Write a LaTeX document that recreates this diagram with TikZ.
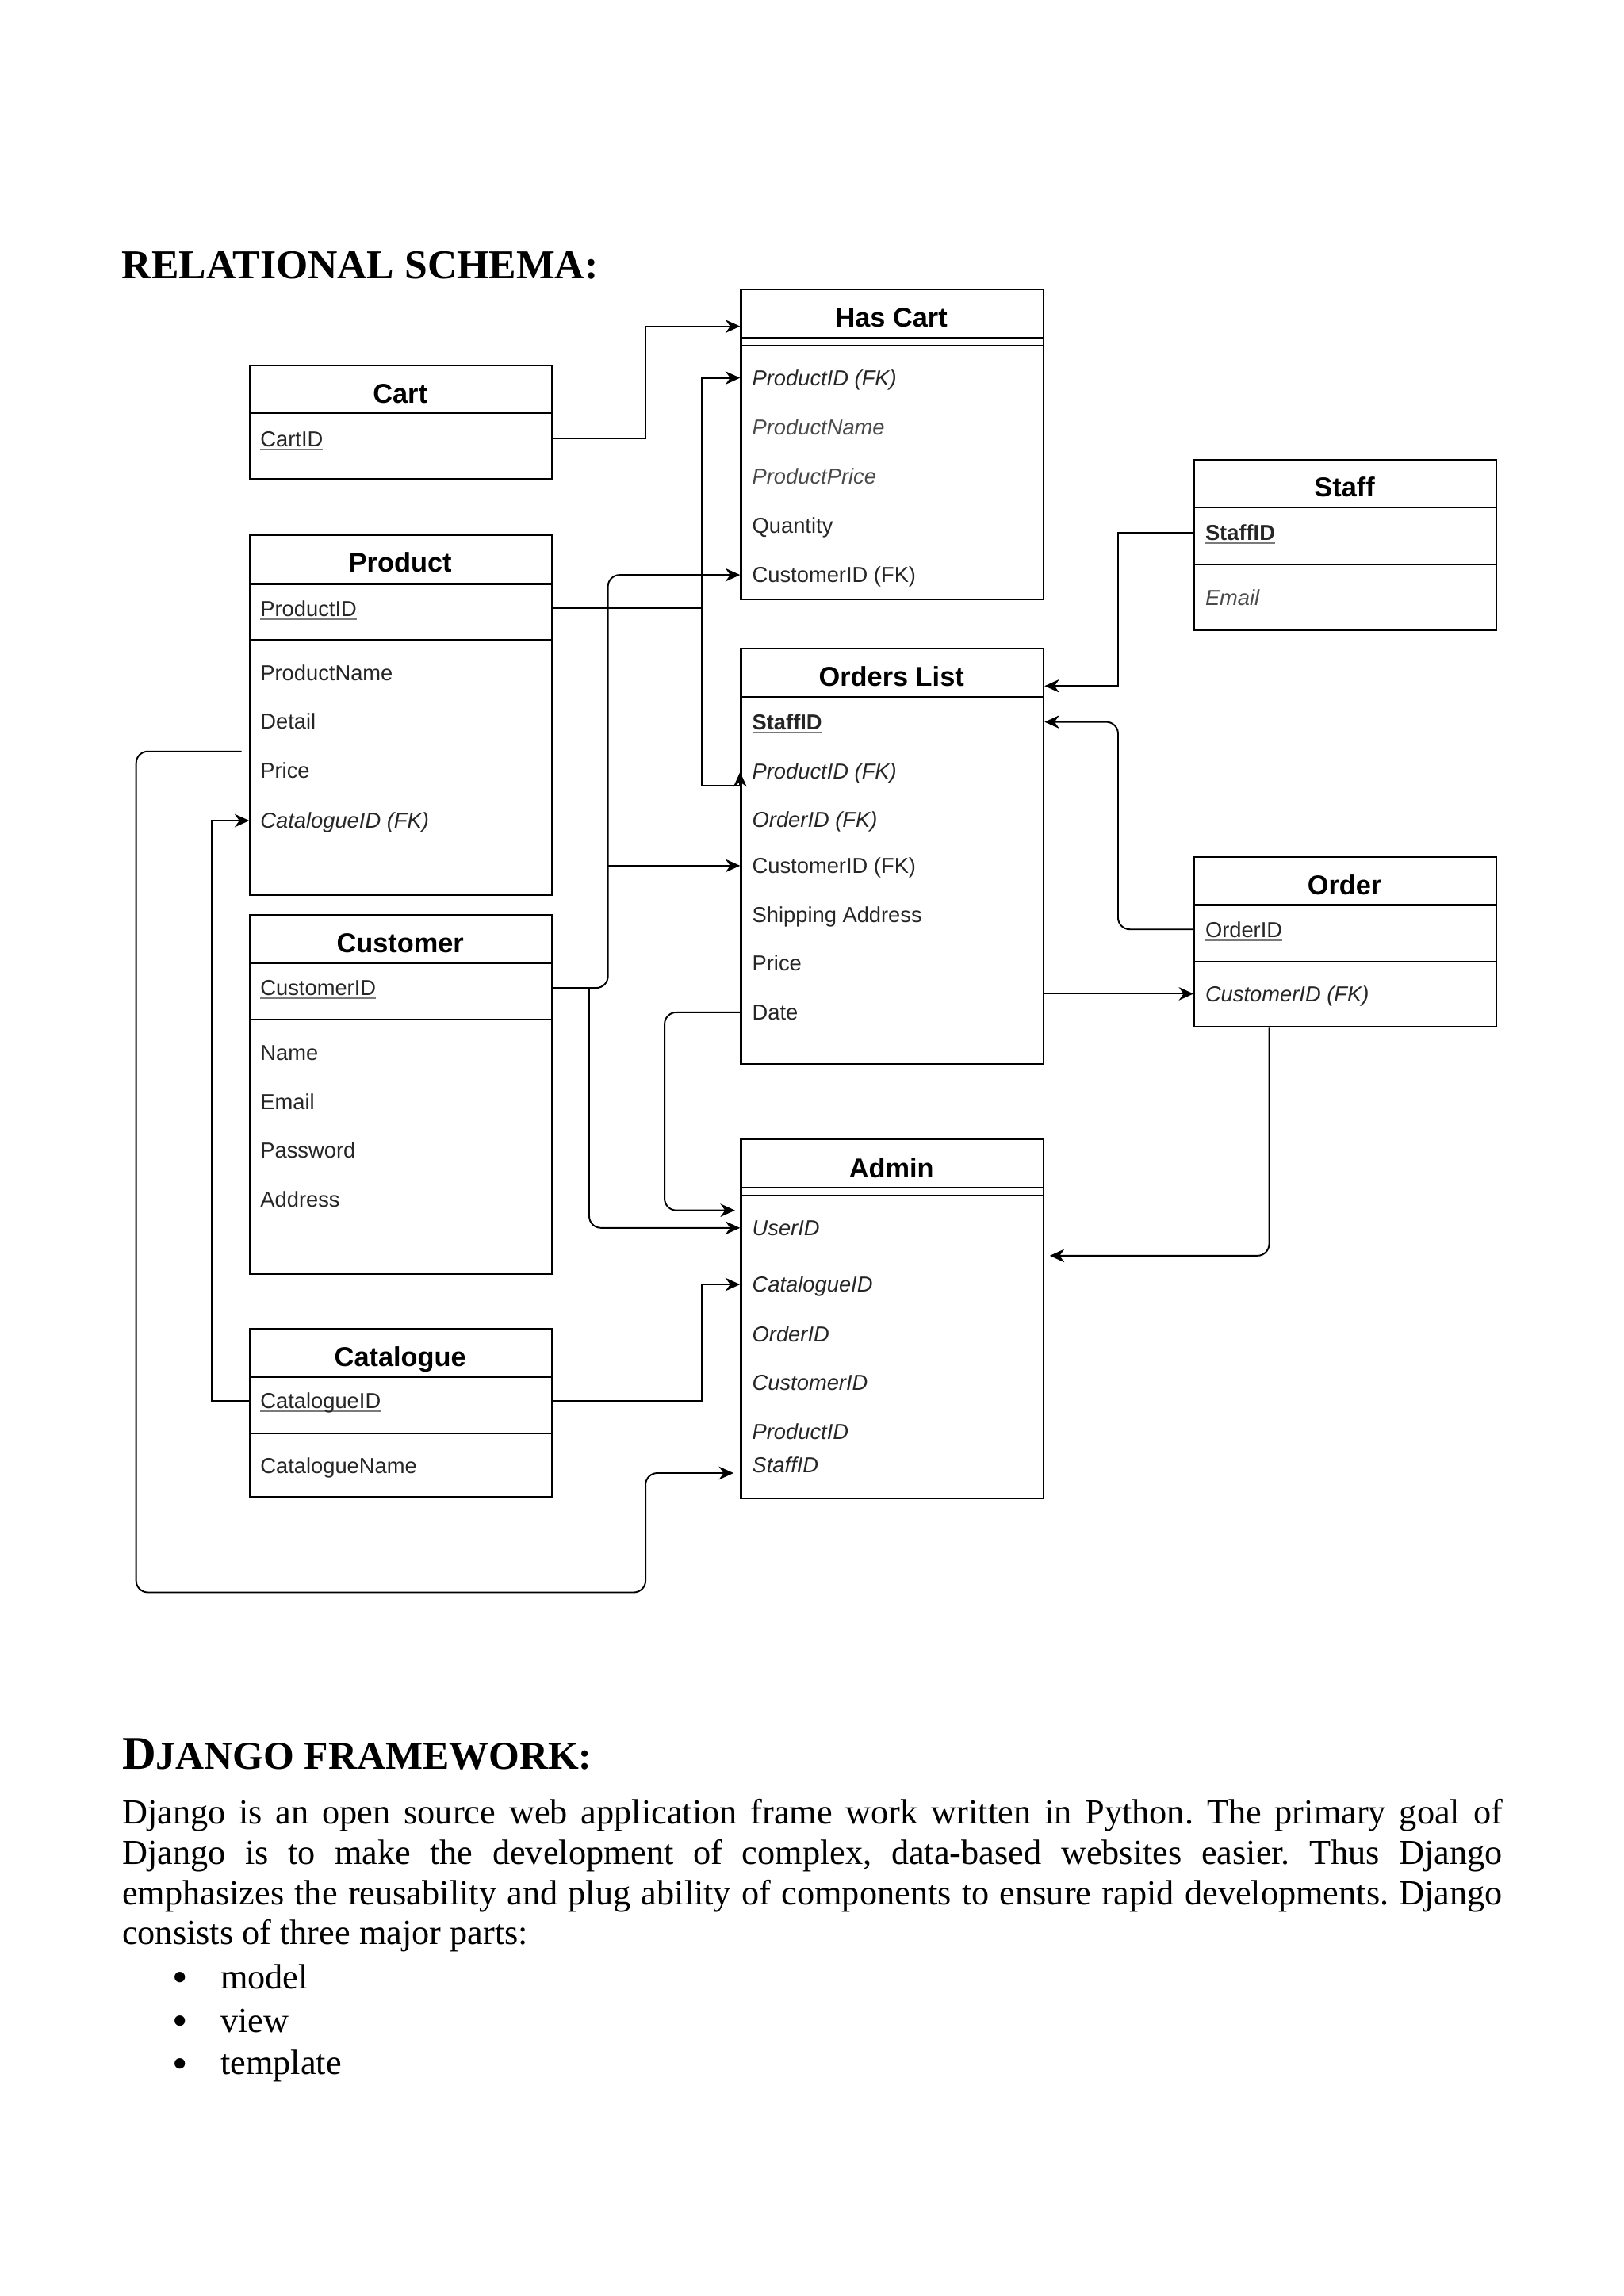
\documentclass[tikz,border=0pt]{standalone}
\usepackage{fontspec}
\setmainfont{Liberation Serif}
\newfontfamily\dsans{Liberation Sans}
\usetikzlibrary{arrows.meta}
\definecolor{rowc}{HTML}{262626}
\definecolor{lightc}{HTML}{4A4A4A}
\definecolor{ulc}{HTML}{7A7A7A}
\newcommand\kul[1]{\setbox0\hbox{#1}\rlap{\color{ulc}\rule[-2.4pt]{\wd0}{1.1pt}}\box0}
\newcommand\bigbul{\makebox[33.1pt][l]{\raisebox{-2.5pt}{\fontsize{30}{30}\selectfont •}}}
\frenchspacing
\tikzset{
  tbl/.style={draw, line width=1.2pt, inner sep=0pt, anchor=north west, minimum width=206.5pt},
  sepline/.style={line width=1.2pt},
  ttl/.style={font=\dsans\bfseries\fontsize{18.6}{22}\selectfont, text height=13pt, text depth=0pt, inner sep=0pt},
  row/.style={font=\dsans\fontsize{14.8}{17}\selectfont, text=rowc, text height=10.7pt, text depth=0pt, inner sep=0pt, anchor=west},
  lrow/.style={row, text=lightc},
  conn/.style={line width=1.05pt, -{Stealth[length=10pt,width=9pt,inset=3.2pt]}},
  rconn/.style={conn, rounded corners=8pt},
  heading/.style={font=\bfseries\fontsize{28}{32}\selectfont, inner sep=0pt, anchor=base west},
  body/.style={font=\fontsize{24}{27.6}\selectfont, inner sep=0pt, anchor=base west},
}
\begin{document}
\begin{tikzpicture}[x=1pt,y=-1pt]
\useasboundingbox (0,0) rectangle (1109.4,1568.8);
\fill[white] (0,0) rectangle (1109.4,1568.8);

% ---------- headings ----------
\node[heading] (h1) at (83.1,190.5) {RELATIONAL SCHEMA:};

% ---------- tables ----------
% Cart
\node[tbl, minimum height=77.3pt] (cart) at (170.2,249.2) {};
\draw[sepline] (cart.west |- 0,282.2) -- (cart.east |- 0,282.2);
\node[ttl] (carttitle) at (273.4,269) {Cart};
\node[row] (cartid) at (177.7,299.7) {\kul{CartID}};

% Has Cart
\node[tbl, minimum width=206.8pt, minimum height=211.8pt] (hascart) at (505.6,197.2) {};
\draw[sepline] (hascart.west |- 0,230.8) -- (hascart.east |- 0,230.8);
\draw[sepline] (hascart.west |- 0,236) -- (hascart.east |- 0,236);
\node[ttl] (hctitle) at (609,216.7) {Has Cart};
\node[row] (hcpid) at (513.7,258.2) {\itshape ProductID (FK)};
\node[lrow] (hcpname) at (513.7,292) {\itshape ProductName};
\node[lrow] (hcpprice) at (513.7,325.6) {\itshape ProductPrice};
\node[row] (hcqty) at (513.7,359) {Quantity};
\node[row] (hccid) at (513.7,392.8) {CustomerID (FK)};

% Staff
\node[tbl, minimum height=116.1pt] (staff) at (815.3,313.7) {};
\draw[sepline] (staff.west |- 0,346.7) -- (staff.east |- 0,346.7);
\draw[sepline] (staff.west |- 0,385.9) -- (staff.east |- 0,385.9);
\node[ttl] (sttitle) at (918.5,333) {Staff};
\node[row] (stid) at (823.2,364) {\bfseries\kul{StaffID}};
\node[lrow] (stemail) at (823.2,408) {\itshape Email};

% Product
\node[tbl, minimum width=206.2pt, minimum height=245.6pt] (product) at (170.3,365.1) {};
\draw[sepline] (product.west |- 0,399) -- (product.east |- 0,399);
\draw[sepline] (product.west |- 0,437.3) -- (product.east |- 0,437.3);
\node[ttl] (ptitle) at (273.4,384.6) {Product};
\node[row] (pid) at (177.7,415.7) {\kul{ProductID}};
\node[row] (pname) at (177.7,459.5) {ProductName};
\node[row] (pdetail) at (177.7,493) {Detail};
\node[row] (pprice) at (177.7,526.4) {Price};
\node[row] (pcat) at (177.7,560.7) {\itshape CatalogueID (FK)};

% Orders List
\node[tbl, minimum width=206.8pt, minimum height=283.9pt] (orders) at (505.6,442.5) {};
\draw[sepline] (orders.west |- 0,476) -- (orders.east |- 0,476);
\node[ttl] (oltitle) at (609,462.4) {Orders List};
\node[row] (olstaff) at (513.7,493.3) {\bfseries\kul{StaffID}};
\node[row] (olpid) at (513.7,526.8) {\itshape ProductID (FK)};
\node[row] (oloid) at (513.7,560) {\itshape OrderID (FK)};
\node[row] (olcid) at (513.7,591.5) {CustomerID (FK)};
\node[row] (olship) at (513.7,625) {Shipping Address};
\node[row] (olprice) at (513.7,658) {Price};
\node[row] (oldate) at (513.7,691.7) {Date};

% Order
\node[tbl, minimum height=116.2pt] (order) at (815.3,584.8) {};
\draw[sepline] (order.west |- 0,618.3) -- (order.east |- 0,618.3);
\draw[sepline] (order.west |- 0,657) -- (order.east |- 0,657);
\node[ttl] (ordtitle) at (918.5,604.8) {Order};
\node[row] (ordid) at (823.2,635) {\kul{OrderID}};
\node[row] (ordcid) at (823.2,679) {\itshape CustomerID (FK)};

% Customer
\node[tbl, minimum width=206.2pt, minimum height=245.4pt] (customer) at (170.3,624.4) {};
\draw[sepline] (customer.west |- 0,658.2) -- (customer.east |- 0,658.2);
\draw[sepline] (customer.west |- 0,696.7) -- (customer.east |- 0,696.7);
\node[ttl] (ctitle) at (273.4,644.3) {Customer};
\node[row] (cid) at (177.7,675) {\kul{CustomerID}};
\node[row] (cname) at (177.7,719) {Name};
\node[row] (cemail) at (177.7,752.6) {Email};
\node[row] (cpass) at (177.7,785.9) {Password};
\node[row] (caddr) at (177.7,819.4) {Address};

% Admin
\node[tbl, minimum width=206.8pt, minimum height=245.3pt] (admin) at (505.6,778) {};
\draw[sepline] (admin.west |- 0,811.5) -- (admin.east |- 0,811.5);
\draw[sepline] (admin.west |- 0,816.7) -- (admin.east |- 0,816.7);
\node[ttl] (adtitle) at (609,798) {Admin};
\node[row] (adu) at (513.7,839) {\itshape UserID};
\node[row] (adcat) at (513.7,877.6) {\itshape CatalogueID};
\node[row] (adoid) at (513.7,911.5) {\itshape OrderID};
\node[row] (adcid) at (513.7,944.3) {\itshape CustomerID};
\node[row] (adpid) at (513.7,978.3) {\itshape ProductID};
\node[row] (adstaff) at (513.7,1001) {\itshape StaffID};

% Catalogue
\node[tbl, minimum width=206.2pt, minimum height=115pt] (catalogue) at (170.3,907.3) {};
\draw[sepline] (catalogue.west |- 0,940.7) -- (catalogue.east |- 0,940.7);
\draw[sepline] (catalogue.west |- 0,979.6) -- (catalogue.east |- 0,979.6);
\node[ttl] (cattitle) at (273.4,927.3) {Catalogue};
\node[row] (catid) at (177.7,957.2) {\kul{CatalogueID}};
\node[row] (catname) at (177.7,1001.4) {CatalogueName};

% ---------- routing coordinates ----------
\coordinate (busA) at (441,0);
\coordinate (busB) at (479.5,0);
\coordinate (busC) at (415.3,0);
\coordinate (busD) at (402.5,0);
\coordinate (busE) at (454,0);
\coordinate (busF) at (144.4,0);
\coordinate (busG) at (93,0);
\coordinate (busH) at (763.8,0);
\coordinate (busI) at (867,0);
\coordinate (ycart) at (0,223);
\coordinate (yprod) at (0,537);
\coordinate (ydate) at (0,827);
\coordinate (yloop) at (0,1088);
\coordinate (yastaff) at (0,1006.5);
\coordinate (yolhead) at (0,468.7);
\coordinate (yadright) at (0,858);
\coordinate (pstub) at (165,513.4);

% ---------- connectors ----------
% Cart -> Has Cart
\draw[conn] (cart.east |- cartid) -| (busA |- ycart) -- (hascart.west |- ycart);
% Product -> Has Cart, Orders List
\draw[conn] (product.east |- pid) -| (busB |- hcpid) -- (hascart.west |- hcpid);
\draw[conn] (busB |- pid) |- (orders.west |- yprod) -- ++(0,-9.5);
% Customer -> Has Cart, Orders List, Admin
\draw[rconn] (customer.east |- cid) -| (busC |- hccid) -- (hascart.west |- hccid);
\draw[conn] (busC |- olcid) -- (orders.west |- olcid);
\draw[rconn] (busD |- cid) |- (admin.west |- adu);
% Orders List Date -> Admin
\draw[rconn] (orders.west |- oldate) -| (busE |- ydate) -- ([xshift=-3.5pt]admin.west |- ydate);
% Catalogue -> Admin
\draw[conn] (catalogue.east |- catid) -| (busB |- adcat) -- (admin.west |- adcat);
% Catalogue -> Product
\draw[conn] (catalogue.west |- catid) -| (busF |- pcat) -- (product.west |- pcat);
% Product -> Admin StaffID (outer loop)
\draw[rconn] (pstub) -| (busG |- yloop) -| (busA |- yastaff) -- ([xshift=-4.5pt]admin.west |- yastaff);
% Staff -> Orders List
\draw[conn] (staff.west |- stid) -| (busH |- yolhead) -- (orders.east |- yolhead);
% Order -> Orders List
\draw[rconn] (order.west |- ordid) -| (busH |- olstaff) -- (orders.east |- olstaff);
% Orders List -> Order
\draw[conn] (orders.east |- ordcid) -- (order.west |- ordcid);
% Order -> Admin
\draw[rconn] (busI |- order.south) |- ([xshift=3.5pt]admin.east |- yadright);

% ---------- Django section ----------
\node[font=\bfseries, inner sep=0pt, anchor=base west] (h2) at (83.3,1209)
  {{\fontsize{32}{34}\selectfont D}{\fontsize{27}{30}\selectfont JANGO FRAMEWORK:}};
\node[body] (l1) at (83.3,1246) {\makebox[943pt][s]{Django is an open source web application frame work written in Python. The primary goal of}};
\node[body] (l2) at (83.3,1273.6) {\makebox[943pt][s]{Django is to make the development of complex, data-based websites easier. Thus Django}};
\node[body] (l3) at (83.3,1301.2) {\makebox[943pt][s]{emphasizes the reusability and plug ability of components to ensure rapid developments. Django}};
\node[body] (l4) at (83.3,1328.8) {consists of three major parts:};
\node[body] (t1) at (117.4,1358.7) {\bigbul model};
\node[body] (t2) at (117.4,1388.5) {\bigbul view};
\node[body] (t3) at (117.4,1417.5) {\bigbul template};
\end{tikzpicture}
\end{document}
